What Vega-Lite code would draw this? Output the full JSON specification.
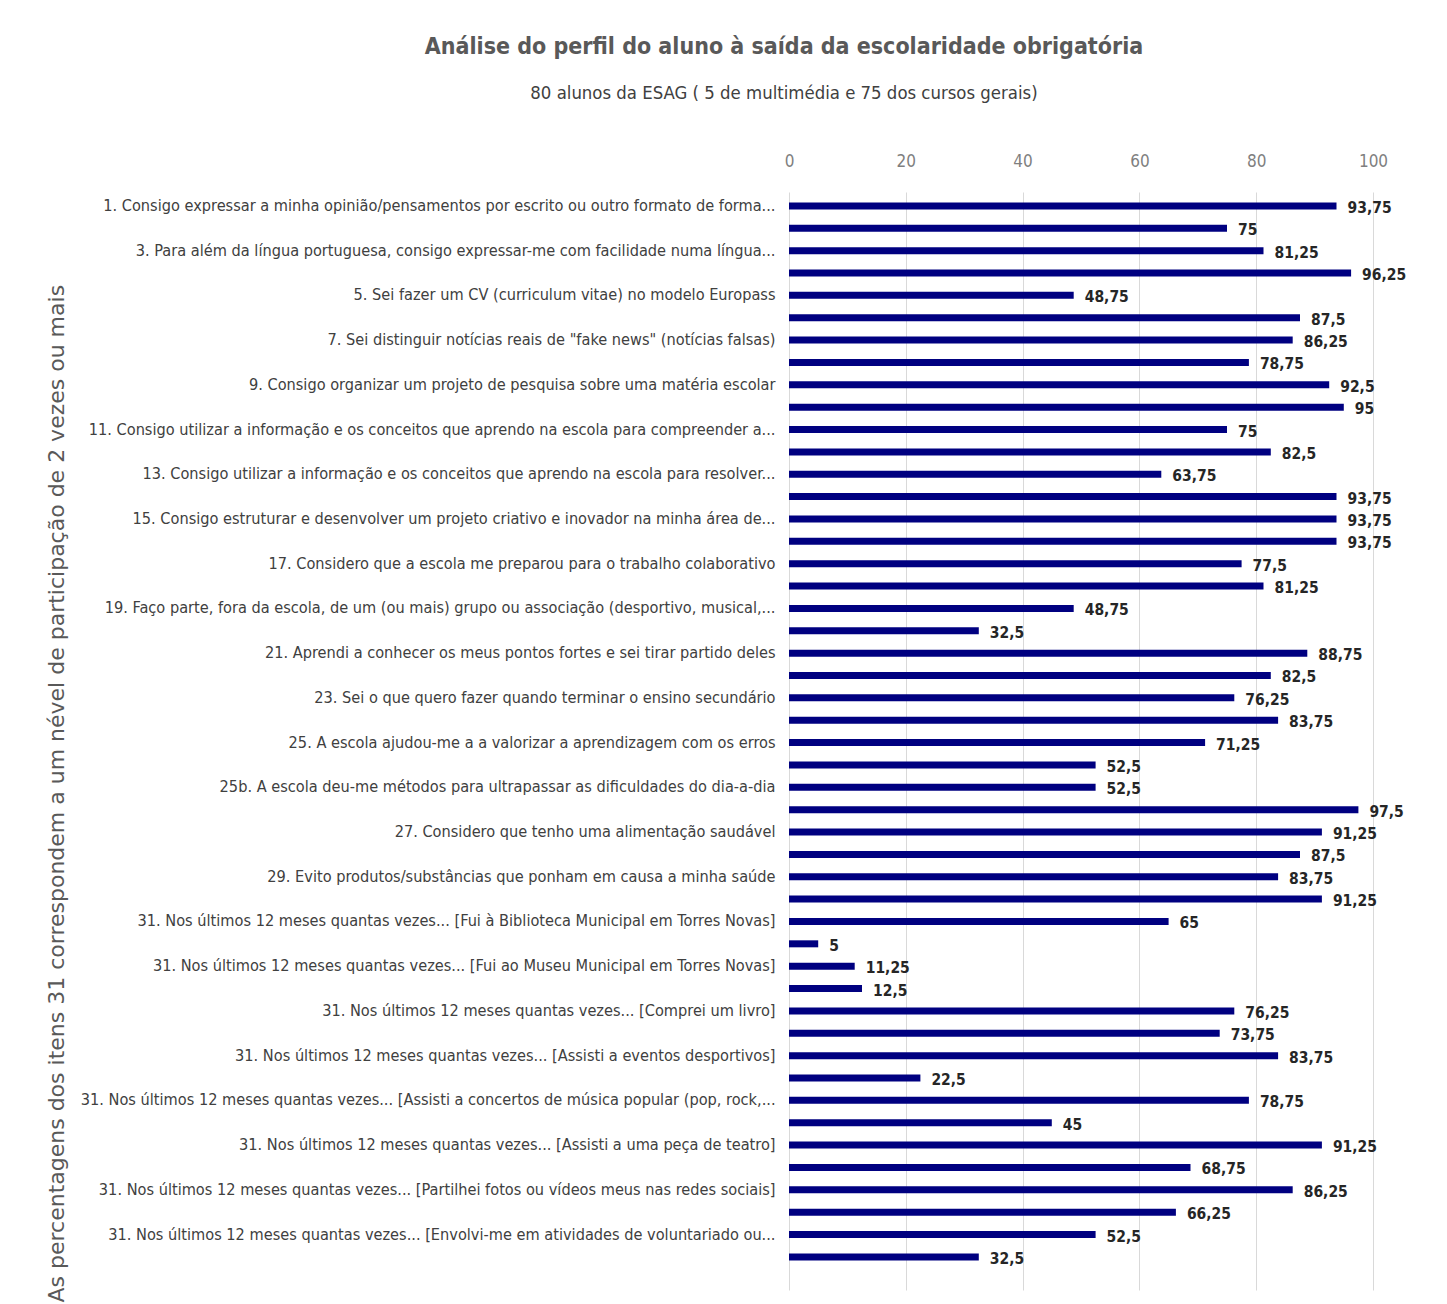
{
  "$schema": "https://vega.github.io/schema/vega-lite/v6.json",
  "autosize": {"type": "none"},
  "padding": {"left": 789, "top": 192, "right": 74, "bottom": 14},
  "width": 584,
  "height": 1098,
  "background": "white",
  "title": {
    "text": "Análise do perfil do aluno à saída da escolaridade obrigatória",
    "subtitle": "80 alunos da ESAG ( 5 de multimédia e 75 dos cursos gerais)",
    "anchor": "middle",
    "frame": "group",
    "dx": -297,
    "offset": 50,
    "font": "DejaVu Sans Condensed",
    "fontSize": 23,
    "fontWeight": "bold",
    "color": "#595959",
    "subtitleFont": "DejaVu Sans Condensed",
    "subtitleFontSize": 18.4,
    "subtitleColor": "#404040",
    "subtitlePadding": 25
  },
  "data": {
    "values": [
      {"item": "1. Consigo expressar a minha opinião/pensamentos por escrito ou outro formato de forma...", "value": 93.75},
      {"item": "02", "value": 75},
      {"item": "3. Para além da língua portuguesa, consigo expressar-me com facilidade numa língua...", "value": 81.25},
      {"item": "04", "value": 96.25},
      {"item": "5. Sei fazer um CV (curriculum vitae) no modelo Europass", "value": 48.75},
      {"item": "06", "value": 87.5},
      {"item": "7. Sei distinguir notícias reais de \"fake news\" (notícias falsas)", "value": 86.25},
      {"item": "08", "value": 78.75},
      {"item": "9. Consigo organizar um projeto de pesquisa sobre uma matéria escolar", "value": 92.5},
      {"item": "10", "value": 95},
      {"item": "11. Consigo utilizar a informação e os conceitos que aprendo na escola para compreender a...", "value": 75},
      {"item": "12", "value": 82.5},
      {"item": "13. Consigo utilizar a informação e os conceitos que aprendo na escola para resolver...", "value": 63.75},
      {"item": "14", "value": 93.75},
      {"item": "15. Consigo estruturar e desenvolver um projeto criativo e inovador na minha área de...", "value": 93.75},
      {"item": "16", "value": 93.75},
      {"item": "17. Considero que a escola me preparou para o trabalho colaborativo", "value": 77.5},
      {"item": "18", "value": 81.25},
      {"item": "19. Faço parte, fora da escola, de um (ou mais) grupo ou associação (desportivo, musical,...", "value": 48.75},
      {"item": "20", "value": 32.5},
      {"item": "21. Aprendi a conhecer os meus pontos fortes e sei tirar partido deles", "value": 88.75},
      {"item": "22", "value": 82.5},
      {"item": "23. Sei o que quero fazer quando terminar o ensino secundário", "value": 76.25},
      {"item": "24", "value": 83.75},
      {"item": "25. A escola ajudou-me a a valorizar a aprendizagem com os erros", "value": 71.25},
      {"item": "26", "value": 52.5},
      {"item": "25b. A escola deu-me métodos para ultrapassar as dificuldades do dia-a-dia", "value": 52.5},
      {"item": "28", "value": 97.5},
      {"item": "27. Considero que tenho uma alimentação saudável", "value": 91.25},
      {"item": "30", "value": 87.5},
      {"item": "29. Evito produtos/substâncias que ponham em causa a minha saúde", "value": 83.75},
      {"item": "32", "value": 91.25},
      {"item": "31. Nos últimos 12 meses quantas vezes... [Fui à Biblioteca Municipal em Torres Novas]", "value": 65},
      {"item": "34", "value": 5},
      {"item": "31. Nos últimos 12 meses quantas vezes... [Fui ao Museu Municipal em Torres Novas]", "value": 11.25},
      {"item": "36", "value": 12.5},
      {"item": "31. Nos últimos 12 meses quantas vezes... [Comprei um livro]", "value": 76.25},
      {"item": "38", "value": 73.75},
      {"item": "31. Nos últimos 12 meses quantas vezes... [Assisti a eventos desportivos]", "value": 83.75},
      {"item": "40", "value": 22.5},
      {"item": "31. Nos últimos 12 meses quantas vezes... [Assisti a concertos de música popular (pop, rock,...", "value": 78.75},
      {"item": "42", "value": 45},
      {"item": "31. Nos últimos 12 meses quantas vezes... [Assisti a uma peça de teatro]", "value": 91.25},
      {"item": "44", "value": 68.75},
      {"item": "31. Nos últimos 12 meses quantas vezes... [Partilhei fotos ou vídeos meus nas redes sociais]", "value": 86.25},
      {"item": "46", "value": 66.25},
      {"item": "31. Nos últimos 12 meses quantas vezes... [Envolvi-me em atividades de voluntariado ou...", "value": 52.5},
      {"item": "48", "value": 32.5}
    ]
  },
  "encoding": {
    "y": {
      "field": "item",
      "type": "nominal",
      "sort": null,
      "scale": {"paddingInner": 0.687, "paddingOuter": 0.895, "align": 0.26},
      "axis": {
        "title": "As percentagens dos itens 31 correspondem a um nével de participação de 2 vezes ou mais",
        "titleFont": "DejaVu Sans",
        "titleFontSize": 22,
        "titleFontWeight": "normal",
        "titleColor": "#595959",
        "titleAngle": -90,
        "titleAlign": "left",
        "titleBaseline": "bottom",
        "titleX": -721,
        "titleY": 1110,
        "labelExpr": "length(datum.value) <= 2 ? '' : datum.value",
        "labelFont": "DejaVu Sans Condensed",
        "labelFontSize": 16.2,
        "labelColor": "#404040",
        "labelLimit": 760,
        "labelPadding": 14,
        "ticks": false,
        "domain": false,
        "grid": false
      }
    },
    "x": {
      "field": "value",
      "type": "quantitative",
      "scale": {"domain": [0, 100], "nice": false},
      "axis": {
        "orient": "top",
        "values": [0, 20, 40, 60, 80, 100],
        "title": null,
        "labelFont": "DejaVu Sans Condensed",
        "labelFontSize": 17,
        "labelColor": "#7f7f7f",
        "labelPadding": 22,
        "labelFlush": false,
        "ticks": false,
        "domain": false,
        "grid": true,
        "gridColor": "#d9d9d9",
        "gridWidth": 1
      }
    }
  },
  "layer": [
    {
      "mark": {"type": "bar", "color": "#000080"}
    },
    {
      "mark": {
        "type": "text",
        "align": "left",
        "baseline": "middle",
        "dx": 11,
        "dy": 2,
        "font": "DejaVu Sans Condensed",
        "fontSize": 15.5,
        "fontWeight": "bold",
        "color": "#262626"
      },
      "encoding": {
        "text": {"field": "value", "type": "quantitative", "format": ".2~f"}
      }
    }
  ],
  "config": {
    "locale": {
      "number": {"decimal": ",", "thousands": ".", "grouping": [3], "currency": ["", " €"]}
    },
    "view": {"stroke": null}
  }
}
